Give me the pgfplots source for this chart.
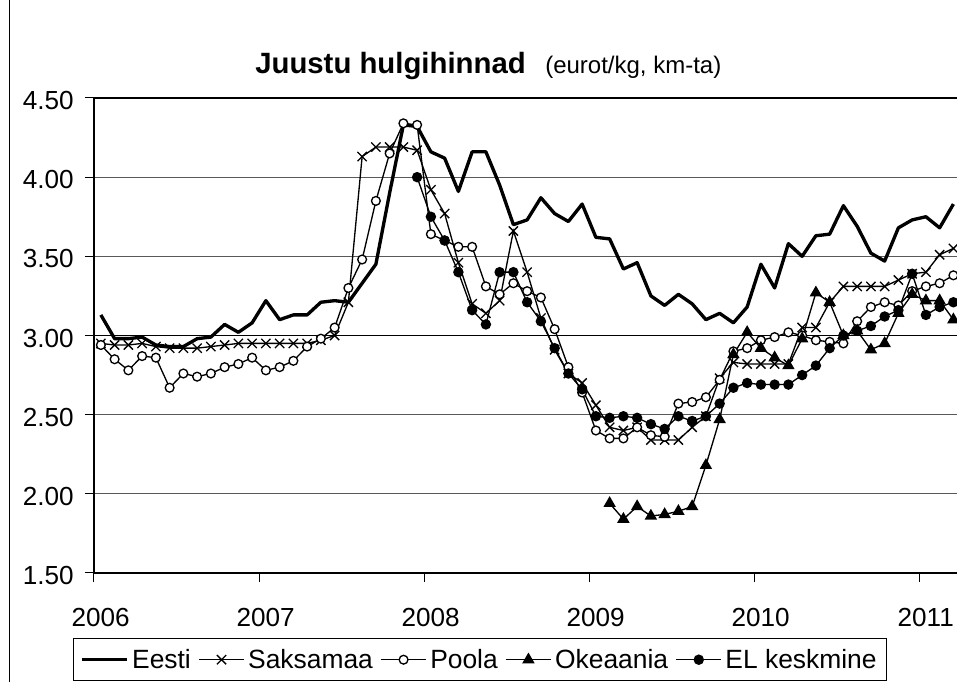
\documentclass[border=0pt]{standalone}
\usepackage{fontspec}
\setmainfont{Liberation Sans}
\usepackage{pgfplots}
\usepackage{pgfplotstable}
\pgfplotsset{compat=1.18}

\pgfplotstableread{
m v
0 3.13
1 2.98
2 2.98
3 2.99
4 2.94
5 2.93
6 2.93
7 2.98
8 2.99
9 3.07
10 3.02
11 3.08
12 3.22
13 3.10
14 3.13
15 3.13
16 3.21
17 3.22
18 3.21
19 3.33
20 3.45
21 3.90
22 4.33
23 4.32
24 4.16
25 4.12
26 3.91
27 4.16
28 4.16
29 3.95
30 3.70
31 3.73
32 3.87
33 3.77
34 3.72
35 3.83
36 3.62
37 3.61
38 3.42
39 3.46
40 3.25
41 3.19
42 3.26
43 3.20
44 3.10
45 3.14
46 3.08
47 3.18
48 3.45
49 3.30
50 3.58
51 3.50
52 3.63
53 3.64
54 3.82
55 3.69
56 3.52
57 3.47
58 3.68
59 3.73
60 3.75
61 3.68
62 3.83
}\eesti

\pgfplotstableread{
m v
0 2.95
1 2.94
2 2.94
3 2.95
4 2.93
5 2.92
6 2.92
7 2.92
8 2.93
9 2.94
10 2.95
11 2.95
12 2.95
13 2.95
14 2.95
15 2.95
16 2.97
17 3.00
18 3.21
19 4.13
20 4.19
21 4.19
22 4.19
23 4.17
24 3.92
25 3.77
26 3.46
27 3.20
28 3.14
29 3.22
30 3.66
31 3.40
32 3.11
33 2.91
34 2.76
35 2.70
36 2.56
37 2.42
38 2.40
39 2.42
40 2.34
41 2.34
42 2.34
43 2.42
44 2.49
45 2.73
46 2.83
47 2.82
48 2.82
49 2.82
50 2.82
51 3.05
52 3.05
53 3.21
54 3.31
55 3.31
56 3.31
57 3.31
58 3.35
59 3.39
60 3.40
61 3.51
62 3.55
}\saksamaa

\pgfplotstableread{
m v
0 2.94
1 2.85
2 2.78
3 2.87
4 2.86
5 2.67
6 2.76
7 2.74
8 2.76
9 2.80
10 2.82
11 2.86
12 2.78
13 2.80
14 2.84
15 2.93
16 2.98
17 3.05
18 3.30
19 3.48
20 3.85
21 4.15
22 4.34
23 4.33
24 3.64
25 3.60
26 3.56
27 3.56
28 3.31
29 3.26
30 3.33
31 3.28
32 3.24
33 3.04
34 2.80
35 2.64
36 2.40
37 2.35
38 2.35
39 2.42
40 2.37
41 2.36
42 2.57
43 2.58
44 2.61
45 2.72
46 2.90
47 2.92
48 2.97
49 2.99
50 3.02
51 3.00
52 2.97
53 2.96
54 2.95
55 3.09
56 3.18
57 3.21
58 3.19
59 3.28
60 3.31
61 3.33
62 3.38
}\poola

\pgfplotstableread{
m v
37 1.94
38 1.84
39 1.92
40 1.86
41 1.87
42 1.89
43 1.92
44 2.18
45 2.47
46 2.88
47 3.02
48 2.92
49 2.86
50 2.81
51 2.98
52 3.27
53 3.21
54 3.00
55 3.03
56 2.91
57 2.95
58 3.14
59 3.26
60 3.22
61 3.22
62 3.10
}\okeaania

\pgfplotstableread{
m v
23 4.00
24 3.75
25 3.60
26 3.40
27 3.16
28 3.07
29 3.40
30 3.40
31 3.21
32 3.09
33 2.92
34 2.76
35 2.66
36 2.49
37 2.48
38 2.49
39 2.48
40 2.44
41 2.41
42 2.49
43 2.46
44 2.49
45 2.57
46 2.67
47 2.70
48 2.69
49 2.69
50 2.69
51 2.75
52 2.81
53 2.92
54 3.00
55 3.03
56 3.06
57 3.12
58 3.16
59 3.39
60 3.13
61 3.18
62 3.21
}\el

\begin{document}
\begin{tikzpicture}[x=0.75pt,y=0.75pt]
\path[use as bounding box] (0,0) rectangle (957,682);
\draw[line width=0.75pt] (9.5,-5) -- (9.5,690);
\node[anchor=base west, inner sep=0pt, font=\fontsize{22}{26}\selectfont\bfseries] at (255,608) {Juustu hulgihinnad};
\node[anchor=base west, inner sep=0pt, font=\fontsize{18}{22}\selectfont] at (545,608) {(eurot/kg, km-ta)};
\begin{axis}[
  at={(70.5pt,81.75pt)}, anchor=south west,
  scale only axis, width=649.5pt, height=356.25pt,
  xmin=-0.5, xmax=62.48, ymin=1.5, ymax=4.5,
  xtick={-0.5,11.5,23.5,35.5,47.5,59.5},
  xticklabels={2006,2007,2008,2009,2010,2011},
  ytick={1.5,2,2.5,3,3.5,4,4.5},
  yticklabels={1.50,2.00,2.50,3.00,3.50,4.00,4.50},
  extra y ticks={3}, extra y tick labels={},
  extra y tick style={grid=major, major grid style={black, line width=0.75pt}},
  tick align=outside, tick pos=left, major tick length=6.75pt,
  axis line style={line width=1.5pt},
  every tick/.style={black, line width=0.75pt},
  ymajorgrids, major grid style={black!65, line width=0.75pt},
  ticklabel style={font=\fontsize{19.6}{23}\selectfont},
  xticklabel style={xshift=5pt, yshift=-16pt},
  yticklabel style={xshift=-5pt, yshift=-2pt},
  legend columns=5,
  legend style={at={(-0.02425,-0.1368)}, anchor=north west, draw=black, line width=0.75pt,
    font=\fontsize{19.8}{23}\selectfont, inner xsep=5pt, inner ysep=3pt,
    /tikz/every even column/.append style={column sep=3pt},
    nodes={inner xsep=2.5pt, inner ysep=5pt}},
  legend image code/.code={%
    \draw[mark repeat=2,mark phase=2,#1] plot coordinates {(0pt,0pt) (17pt,0pt) (34pt,0pt)};},
]
\addplot[black, line width=2.5pt, line join=round, no markers] table[x=m,y=v]{\eesti};
\addlegendentry{Eesti}
\addplot[black, line width=1pt, mark=x, mark size=4.9pt, mark options={line width=1pt}] table[x=m,y=v]{\saksamaa};
\addlegendentry{Saksamaa}
\addplot[black, line width=1pt, mark=*, mark size=3.3pt, mark options={fill=white, draw=black, line width=1pt}] table[x=m,y=v]{\poola};
\addlegendentry{Poola}
\addplot[black, line width=1pt, mark=triangle*, mark size=4.4pt, mark options={fill=black}] table[x=m,y=v]{\okeaania};
\addlegendentry{Okeaania}
\addplot[black, line width=1pt, mark=*, mark size=3.4pt, mark options={fill=black}] table[x=m,y=v]{\el};
\addlegendentry{EL keskmine}
\end{axis}
\end{tikzpicture}
\end{document}
